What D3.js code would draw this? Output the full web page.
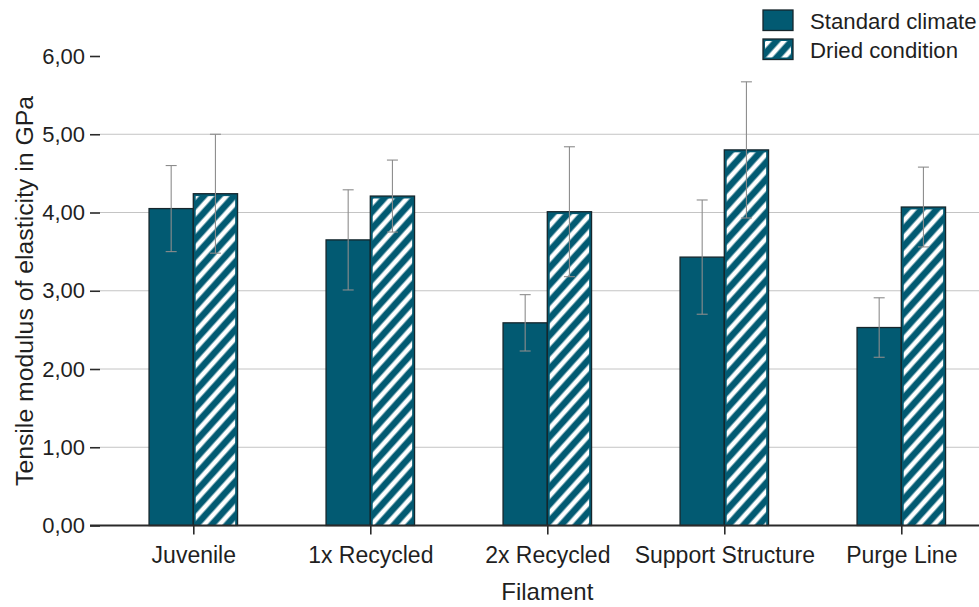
<!DOCTYPE html>
<html>
<head>
<meta charset="utf-8">
<script src="https://cdn.jsdelivr.net/npm/d3@7"></script>
<style>
  body { margin: 0; background: #fff; }
  svg { display: block; }
  text { font-family: "Liberation Sans", Arial, Helvetica, sans-serif; fill: #1f1f1f; }
</style>
</head>
<body>
<svg id="chart" width="979" height="607"></svg>
<script>
// Tensile modulus per filament type, mean and standard deviation (GPa)
const categories = ["Juvenile", "1x Recycled", "2x Recycled", "Support Structure", "Purge Line"];
const seriesNames = ["Standard climate", "Dried condition"];
const standardMean = [4.05, 3.65, 2.59, 3.43, 2.53];
const standardSd   = [0.55, 0.64, 0.36, 0.73, 0.38];
const driedMean    = [4.24, 4.21, 4.01, 4.80, 4.07];
const driedSd      = [0.76, 0.46, 0.83, 0.87, 0.51];
const yTicks = [0, 1, 2, 3, 4, 5, 6];
const xTitle = "Filament";
const yTitle = "Tensile modulus of elasticity in GPa";

const teal = "#025a72";
const outline = "#16262c";

const svg = d3.select("#chart");
const W = 979, H = 607;

const x = d3.scaleBand().domain(categories).range([104.8, 989.8])
  .paddingInner(0.5).paddingOuter(0.25);
const xs = d3.scaleBand().domain(seriesNames).range([0, x.bandwidth()]);
const y = d3.scaleLinear().domain([0, 6]).range([525.5, 56]);

const locale = d3.formatLocale({ decimal: ",", thousands: ".", grouping: [3], currency: ["", " €"] });
const fmt = locale.format(".2f");

// diagonal hatch for the dried series
const defs = svg.append("defs");
const pat = defs.append("pattern")
  .attr("id", "hatch")
  .attr("patternUnits", "userSpaceOnUse")
  .attr("width", 11.3).attr("height", 11.3)
  .attr("patternTransform", "rotate(-48)");
pat.append("rect").attr("width", 11.3).attr("height", 11.3).attr("fill", teal);
pat.append("rect").attr("y", 3.3).attr("width", 11.3).attr("height", 4.7).attr("fill", "#fff");

// horizontal grid lines
svg.append("g")
  .selectAll("line")
  .data(yTicks.filter(t => t > 0 && t < 6))
  .join("line")
  .attr("x1", 100).attr("x2", W)
  .attr("y1", d => y(d)).attr("y2", d => y(d))
  .attr("stroke", "#c4c4c4").attr("stroke-width", 1);

// bar data
const rows = categories.map((c, i) => [
  { cat: c, series: seriesNames[0], mean: standardMean[i], sd: standardSd[i] },
  { cat: c, series: seriesNames[1], mean: driedMean[i], sd: driedSd[i] }
]).flat();

const bars = svg.append("g");
bars.selectAll("rect.bar")
  .data(rows)
  .join("rect")
  .attr("class", "bar")
  .attr("x", d => x(d.cat) + xs(d.series))
  .attr("y", d => y(d.mean))
  .attr("width", xs.bandwidth())
  .attr("height", d => y(0) - y(d.mean))
  .attr("fill", teal)
  .attr("stroke", outline)
  .attr("stroke-width", 1.3);

const inset = 2.4;
bars.selectAll("rect.hatch")
  .data(rows.filter(d => d.series === seriesNames[1]))
  .join("rect")
  .attr("class", "hatch")
  .attr("x", d => x(d.cat) + xs(d.series) + inset)
  .attr("y", d => y(d.mean) + inset)
  .attr("width", xs.bandwidth() - 2 * inset)
  .attr("height", d => y(0) - y(d.mean) - inset)
  .attr("fill", "url(#hatch)");

// error bars
const capW = 11;
const err = svg.append("g").attr("stroke", "#8c8c8c").attr("stroke-width", 1.1);
rows.forEach(d => {
  const cx = x(d.cat) + xs(d.series) + xs.bandwidth() / 2;
  const yt = y(d.mean + d.sd), yb = y(d.mean - d.sd);
  err.append("line").attr("x1", cx).attr("x2", cx).attr("y1", yt).attr("y2", yb);
  err.append("line").attr("x1", cx - capW / 2).attr("x2", cx + capW / 2).attr("y1", yt).attr("y2", yt);
  err.append("line").attr("x1", cx - capW / 2).attr("x2", cx + capW / 2).attr("y1", yb).attr("y2", yb);
});

// zero line
svg.append("line")
  .attr("x1", 90).attr("x2", W)
  .attr("y1", y(0)).attr("y2", y(0))
  .attr("stroke", "#2a2a2a").attr("stroke-width", 2);

// y axis ticks and labels
const yAxis = svg.append("g")
  .attr("transform", "translate(100,0)")
  .call(d3.axisLeft(y).tickValues(yTicks).tickSize(10).tickPadding(5).tickFormat(fmt));
yAxis.select(".domain").remove();
yAxis.selectAll(".tick line").attr("stroke", "#2a2a2a").attr("stroke-width", 1.6);
yAxis.selectAll(".tick text")
  .attr("font-size", 22).attr("font-family", null).attr("fill", "#1f1f1f");

// x axis ticks and labels
const xCenters = d3.scalePoint().domain(categories).range([x(categories[0]) + x.bandwidth() / 2,
  x(categories[categories.length - 1]) + x.bandwidth() / 2]);
const xAxis = svg.append("g")
  .attr("transform", `translate(0,${y(0)})`)
  .call(d3.axisBottom(xCenters).tickSize(9).tickPadding(12));
xAxis.select(".domain").remove();
xAxis.selectAll(".tick line").attr("stroke", "#2a2a2a").attr("stroke-width", 1.6);
xAxis.selectAll(".tick text")
  .attr("font-size", 23).attr("font-family", null).attr("fill", "#1f1f1f");

// axis titles
svg.append("text")
  .attr("x", (x.range()[0] + x.range()[1]) / 2).attr("y", 600)
  .attr("text-anchor", "middle").attr("font-size", 24)
  .text(xTitle);
svg.append("text")
  .attr("transform", "translate(33,291) rotate(-90)")
  .attr("text-anchor", "middle").attr("font-size", 24.8)
  .text(yTitle);

// legend
const legend = svg.append("g").attr("transform", "translate(763,10)");
seriesNames.forEach((name, i) => {
  const g = legend.append("g").attr("transform", `translate(0,${i * 29})`);
  g.append("rect").attr("width", 30).attr("height", 20.5)
    .attr("fill", teal).attr("stroke", outline).attr("stroke-width", 1.3);
  if (i === 1) {
    g.append("rect").attr("x", 2).attr("y", 2).attr("width", 26).attr("height", 16.5)
      .attr("fill", "url(#hatch)");
  }
  g.append("text").attr("x", 47).attr("y", 18.5).attr("font-size", 22.2).text(name);
});
</script>
</body>
</html>
